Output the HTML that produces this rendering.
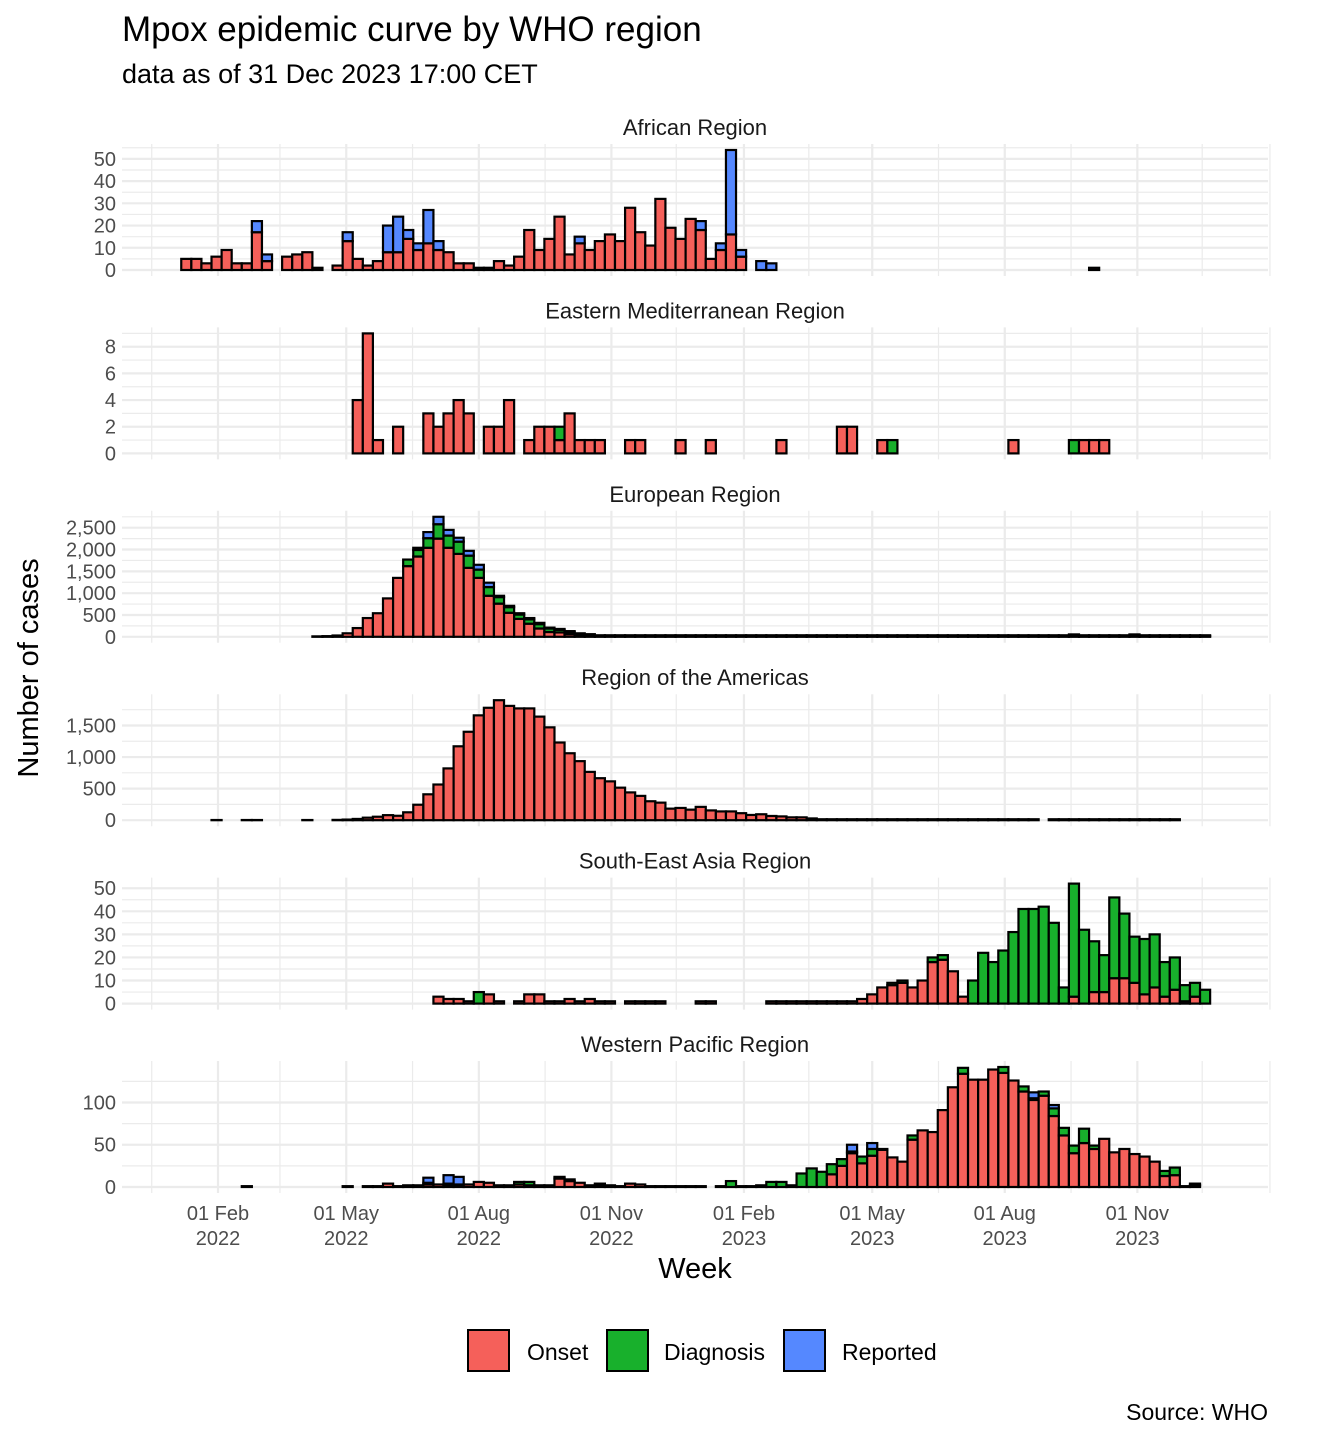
<!DOCTYPE html>
<html><head><meta charset="utf-8"><style>
html,body{margin:0;padding:0;background:#fff;}
svg{display:block;font-family:"Liberation Sans",Arial,sans-serif;}
</style></head><body>
<svg id="chart" width="1344" height="1440" viewBox="0 0 1344 1440">
<text x="122" y="41" font-size="35" fill="#000">Mpox epidemic curve by WHO region</text>
<text x="122" y="83" font-size="27" fill="#000">data as of 31 Dec 2023 17:00 CET</text>
<text transform="translate(38,668) rotate(-90)" text-anchor="middle" font-size="29" fill="#000">Number of cases</text>
<text x="695" y="1278" text-anchor="middle" font-size="29" fill="#000">Week</text>
<g>
<rect x="468" y="1330" width="41" height="41" fill="#F5605A" stroke="#000" stroke-width="2"/>
<text x="527" y="1360" font-size="23">Onset</text>
<rect x="607" y="1330" width="41" height="41" fill="#18B02C" stroke="#000" stroke-width="2"/>
<text x="664" y="1360" font-size="23">Diagnosis</text>
<rect x="784" y="1330" width="41" height="41" fill="#5588FF" stroke="#000" stroke-width="2"/>
<text x="842" y="1360" font-size="23">Reported</text>
</g>
<text x="1268" y="1420" text-anchor="end" font-size="23" fill="#000">Source: WHO</text>
</svg>
<script>
const regions = ["African Region","Eastern Mediterranean Region","European Region","Region of the Americas","South-East Asia Region","Western Pacific Region"];
const seriesNames = ["Onset","Diagnosis","Reported"];
const firstWeek = "2022-01-03";
const xTickDates = ["2022-02-01","2022-05-01","2022-08-01","2022-11-01","2023-02-01","2023-05-01","2023-08-01","2023-11-01"];
const xTickTop = ["01 Feb","01 May","01 Aug","01 Nov","01 Feb","01 May","01 Aug","01 Nov"];
const xTickBottom = ["2022","2022","2022","2022","2023","2023","2023","2023"];
const xMinorDates = ["2021-12-17","2022-03-16","2022-06-16","2022-09-16","2022-12-16","2023-03-18","2023-06-16","2023-09-16","2023-12-16","2024-02-01"];

const afrOnset = [0,5,5,3,6,9,3,3,17,4, 0,6,7,8,1,0,2,13,5,2, 4,8,8,14,9,12,9,8,3,3, 1,1,4,2,6,18,9,14,24,7, 12,9,13,16,13,28,17,11,32,19, 14,23,18,5,9,16,6,0,0,0, 0,0,0,0,0,0,0,0,0,0, 0,0,0,0,0,0,0,0,0,0, 0,0,0,0,0,0,0,0,0,0, 0,1,0,0,0,0,0,0,0,0, 0,0,0];
const afrDiag = [0,0,0,0,0,0,0,0,0,0, 0,0,0,0,0,0,0,0,0,0, 0,0,0,0,0,0,0,0,0,0, 0,0,0,0,0,0,0,0,0,0, 0,0,0,0,0,0,0,0,0,0, 0,0,0,0,0,0,0,0,0,0, 0,0,0,0,0,0,0,0,0,0, 0,0,0,0,0,0,0,0,0,0, 0,0,0,0,0,0,0,0,0,0, 0,0,0,0,0,0,0,0,0,0, 0,0,0];
const afrRep = [0,0,0,0,0,0,0,0,5,3, 0,0,0,0,0,0,0,4,0,0, 0,12,16,4,3,15,4,0,0,0, 0,0,0,0,0,0,0,0,0,0, 3,0,0,0,0,0,0,0,0,0, 0,0,4,0,3,38,3,0,4,3, 0,0,0,0,0,0,0,0,0,0, 0,0,0,0,0,0,0,0,0,0, 0,0,0,0,0,0,0,0,0,0, 0,0,0,0,0,0,0,0,0,0, 0,0,0];

const emrOnset = [0,0,0,0,0,0,0,0,0,0, 0,0,0,0,0,0,0,0,4,9, 1,0,2,0,0,3,2,3,4,3, 0,2,2,4,0,1,2,2,1,3, 1,1,1,0,0,1,1,0,0,0, 1,0,0,1,0,0,0,0,0,0, 1,0,0,0,0,0,2,2,0,0, 1,0,0,0,0,0,0,0,0,0, 0,0,0,1,0,0,0,0,0,0, 1,1,1,0,0,0,0,0,0,0, 0,0,0];
const emrDiag = [0,0,0,0,0,0,0,0,0,0, 0,0,0,0,0,0,0,0,0,0, 0,0,0,0,0,0,0,0,0,0, 0,0,0,0,0,0,0,0,1,0, 0,0,0,0,0,0,0,0,0,0, 0,0,0,0,0,0,0,0,0,0, 0,0,0,0,0,0,0,0,0,0, 0,1,0,0,0,0,0,0,0,0, 0,0,0,0,0,0,0,0,0,1, 0,0,0,0,0,0,0,0,0,0, 0,0,0];
const emrRep = [0,0,0,0,0,0,0,0,0,0, 0,0,0,0,0,0,0,0,0,0, 0,0,0,0,0,0,0,0,0,0, 0,0,0,0,0,0,0,0,0,0, 0,0,0,0,0,0,0,0,0,0, 0,0,0,0,0,0,0,0,0,0, 0,0,0,0,0,0,0,0,0,0, 0,0,0,0,0,0,0,0,0,0, 0,0,0,0,0,0,0,0,0,0, 0,0,0,0,0,0,0,0,0,0, 0,0,0];

const eurOnset = [0,0,0,0,0,0,0,0,0,0, 0,0,0,0,10,15,30,80,200,430, 540,880,1350,1620,1840,2040,2250,2040,1900,1580, 1350,940,760,550,410,300,190,110,100,60, 40,30,15,15,15,15,15,15,15,15, 15,15,15,15,15,15,15,15,15,15, 15,15,15,15,15,15,15,15,15,15, 15,15,15,15,15,15,15,15,15,15, 15,15,15,15,15,15,15,15,15,15, 15,15,15,15,15,15,15,15,15,15, 15,15,15];
const eurDiag = [0,0,0,0,0,0,0,0,0,0, 0,0,0,0,0,0,0,0,0,0, 0,0,0,150,150,220,330,280,280,280, 190,200,150,130,100,100,100,80,60,50, 40,30,20,20,20,20,20,20,20,20, 20,20,20,20,20,20,20,20,20,20, 20,20,20,20,20,20,20,20,20,20, 20,20,20,20,20,20,20,20,20,20, 20,20,20,20,20,20,20,20,20,40, 20,20,20,20,20,40,20,20,20,20, 20,20,20];
const eurRep = [0,0,0,0,0,0,0,0,0,0, 0,0,0,0,0,0,0,0,0,0, 0,0,0,0,50,140,170,130,90,110, 110,100,30,30,30,30,30,20,20,20, 0,0,0,0,0,0,0,0,0,0, 0,0,0,0,0,0,0,0,0,0, 0,0,0,0,0,0,0,0,0,0, 0,0,0,0,0,0,0,0,0,0, 0,0,0,0,0,0,0,0,0,0, 0,0,0,0,0,0,0,0,0,0, 0,0,0];

const amrOnset = [0,0,0,0,3,0,0,3,3,0, 0,0,0,3,0,0,5,10,20,40, 55,80,70,125,245,410,565,820,1170,1400, 1660,1780,1900,1810,1770,1770,1640,1470,1230,1060, 935,765,665,615,515,440,385,300,278,183, 194,167,211,155,139,139,111,83,94,67, 60,45,45,28,15,15,15,15,15,15, 15,15,15,15,15,15,15,15,15,15, 15,15,15,15,15,15,0,15,15,15, 15,15,15,15,15,15,15,15,15,15, 0,0,0];
const amrDiag = [0,0,0,0,0,0,0,0,0,0, 0,0,0,0,0,0,0,0,0,0, 0,0,0,0,0,0,0,0,0,0, 0,0,0,0,0,0,0,0,0,0, 0,0,0,0,0,0,0,0,0,0, 0,0,0,0,0,0,0,0,0,0, 0,0,0,0,0,0,0,0,0,0, 0,0,0,0,0,0,0,0,0,0, 0,0,0,0,0,0,0,0,0,0, 0,0,0,0,0,0,0,0,0,0, 0,0,0];
const amrRep = [0,0,0,0,0,0,0,0,0,0, 0,0,0,0,0,0,0,0,0,0, 0,0,0,0,0,0,0,0,0,0, 0,0,0,0,0,0,0,0,0,0, 0,0,0,0,0,0,0,0,0,0, 0,0,0,0,0,0,0,0,0,0, 0,0,0,0,0,0,0,0,0,0, 0,0,0,0,0,0,0,0,0,0, 0,0,0,0,0,0,0,0,0,0, 0,0,0,0,0,0,0,0,0,0, 0,0,0];

const searOnset = [0,0,0,0,0,0,0,0,0,0, 0,0,0,0,0,0,0,0,0,0, 0,0,0,0,0,0,3,2,2,1, 0,4,1,0,1,4,4,1,1,2, 1,2,1,1,0,1,1,1,1,0, 0,0,1,1,0,0,0,0,0,1, 1,1,1,1,1,1,1,1,2,4, 7,8,9,7,10,18,19,14,3,0, 0,0,0,0,0,0,0,0,0,3, 0,5,5,11,11,9,4,7,3,6, 1,3,0];
const searDiag = [0,0,0,0,0,0,0,0,0,0, 0,0,0,0,0,0,0,0,0,0, 0,0,0,0,0,0,0,0,0,0, 5,0,0,0,0,0,0,0,0,0, 0,0,0,0,0,0,0,0,0,0, 0,0,0,0,0,0,0,0,0,0, 0,0,0,0,0,0,0,0,0,0, 0,1,1,0,0,2,2,0,0,10, 22,18,23,31,41,41,42,35,7,49, 32,22,16,35,28,20,24,23,15,14, 7,6,6];
const searRep = [0,0,0,0,0,0,0,0,0,0, 0,0,0,0,0,0,0,0,0,0, 0,0,0,0,0,0,0,0,0,0, 0,0,0,0,0,0,0,0,0,0, 0,0,0,0,0,0,0,0,0,0, 0,0,0,0,0,0,0,0,0,0, 0,0,0,0,0,0,0,0,0,0, 0,0,0,0,0,0,0,0,0,0, 0,0,0,0,0,0,0,0,0,0, 0,0,0,0,0,0,0,0,0,0, 0,0,0];

const wprOnset = [0,0,0,0,0,0,0,1,0,0, 0,0,0,0,0,0,0,1,0,1, 1,4,1,2,2,3,3,2,1,3, 6,5,2,2,3,2,2,2,10,7, 5,2,2,2,1,4,3,1,1,1, 1,1,1,0,1,0,1,1,2,0, 0,2,0,0,0,15,25,40,28,37, 44,35,30,56,67,65,91,118,134,127, 127,139,135,126,113,103,108,84,61,40, 52,45,57,41,45,39,36,30,13,14, 1,2,0];
const wprDiag = [0,0,0,0,0,0,0,0,0,0, 0,0,0,0,0,0,0,0,0,0, 0,0,0,0,0,2,0,2,2,0, 0,0,0,0,3,4,0,0,2,2, 0,0,2,0,0,0,0,0,0,0, 0,0,0,0,0,7,0,0,0,6, 6,0,16,22,18,12,8,2,8,8, 1,0,0,5,0,0,0,0,7,0, 0,0,7,0,6,2,5,9,9,9, 17,4,0,0,0,0,0,0,6,9, 0,2,0];
const wprRep = [0,0,0,0,0,0,0,0,0,0, 0,0,0,0,0,0,0,0,0,0, 0,0,0,0,0,6,0,10,9,0, 0,0,0,0,0,0,0,0,0,0, 0,0,0,0,0,0,0,0,0,0, 0,0,0,0,0,0,0,0,0,0, 0,0,0,0,0,0,0,8,0,7, 0,0,0,0,0,0,0,0,0,0, 0,0,0,0,0,7,0,4,0,0, 0,0,0,0,0,0,0,0,0,0, 0,0,0];

const regionSeries = [
  [afrOnset, afrDiag, afrRep],
  [emrOnset, emrDiag, emrRep],
  [eurOnset, eurDiag, eurRep],
  [amrOnset, amrDiag, amrRep],
  [searOnset, searDiag, searRep],
  [wprOnset, wprDiag, wprRep]
];
const regionKeys = ["african","eastern-mediterranean","european","americas","south-east-asia","western-pacific"];

const NS = "http://www.w3.org/2000/svg";
const svg = document.getElementById("chart");
const COLORS = ["#F5605A","#18B02C","#5588FF"];
const PX_PER_DAY = 1.441;
const ORIGIN = Date.UTC(2022,1,1);
const PLOT_L = 122, PLOT_R = 1268;
function dayNum(s){const p=s.split("-").map(Number);return (Date.UTC(p[0],p[1]-1,p[2])-ORIGIN)/86400000;}
function xScale(s){return 218 + dayNum(s)*PX_PER_DAY;}
const week0Day = dayNum(firstWeek);
function xWeek(k){return 218 + (week0Day + 7*k)*PX_PER_DAY;}
const barW = 7*PX_PER_DAY;
function el(tag, attrs, parent){const e=document.createElementNS(NS,tag);for(const a in attrs)e.setAttribute(a,attrs[a]);(parent||svg).appendChild(e);return e;}
function niceStep(mx){const raw=mx/5;const mag=Math.pow(10,Math.floor(Math.log10(raw)));for(const m of [1,2,5,10]){if(m*mag>=raw*0.75)return m*mag;}return 10*mag;}
function fmt(v){return v.toLocaleString("en-US");}

regions.forEach((name, r) => {
  const top = 144 + r*183.4;
  const H = 132;
  const series = regionSeries[r];
  const n = series[0].length;
  let maxV = 0;
  for (let k=0;k<n;k++){const t=series[0][k]+series[1][k]+series[2][k];if(t>maxV)maxV=t;}
  if (maxV<=0) maxV=1;
  const zeroY = top + H*(1.05/1.10);
  const scale = (H/1.10)/maxV;
  const yScale = v => zeroY - v*scale;
  const yMaxVal = 1.05*maxV;

  const g = el("g", {});
  
  

  const strip = el("text", {x:695, y:top-9, "text-anchor":"middle", "font-size":"22", fill:"#1a1a1a"}, g);
  strip.textContent = name;
  
  

  const step = niceStep(maxV);
  for (let v = step/2; v <= yMaxVal; v += step) {
    const gl = el("line", {x1:PLOT_L, x2:PLOT_R, y1:yScale(v), y2:yScale(v), stroke:"#ebebeb", "stroke-width":1.2}, g);
    
    
  }
  xMinorDates.forEach(d => {
    const x = xScale(d);
    const gl = el("line", {x1:x, x2:x, y1:top, y2:top+H, stroke:"#ebebeb", "stroke-width":1.2}, g);
    
    
  });
  for (let v = 0; v <= yMaxVal + 1e-9; v += step) {
    const y = yScale(v);
    const gl = el("line", {x1:PLOT_L, x2:PLOT_R, y1:y, y2:y, stroke:"#ebebeb", "stroke-width":2.2}, g);
    
    
    const t = el("text", {x:116, y:y+7, "text-anchor":"end", "font-size":"20", fill:"#4d4d4d"}, g);
    t.textContent = fmt(v);
    
    
  }
  xTickDates.forEach(d => {
    const x = xScale(d);
    const gl = el("line", {x1:x, x2:x, y1:top, y2:top+H, stroke:"#ebebeb", "stroke-width":2.2}, g);
    
    
  });

  for (let k=0;k<n;k++){
    let base = 0;
    for (let s=0;s<3;s++){
      const v = series[s][k];
      if (v<=0) continue;
      const y1 = yScale(base), y2 = yScale(base+v);
      const rect = el("rect", {x:xWeek(k)-barW/2, y:y2, width:barW, height:Math.max(y1-y2,0.01), fill:COLORS[s], stroke:"#000", "stroke-width":2.2}, g);
      
      
      base += v;
    }
  }
});

xTickDates.forEach((d,i) => {
  const x = xScale(d);
  const t1 = el("text", {x:x, y:1220, "text-anchor":"middle", "font-size":"20", fill:"#4d4d4d"});
  t1.textContent = xTickTop[i];
  
  
  const t2 = el("text", {x:x, y:1245, "text-anchor":"middle", "font-size":"20", fill:"#4d4d4d"});
  t2.textContent = xTickBottom[i];
  
  
});
</script>
</body></html>
